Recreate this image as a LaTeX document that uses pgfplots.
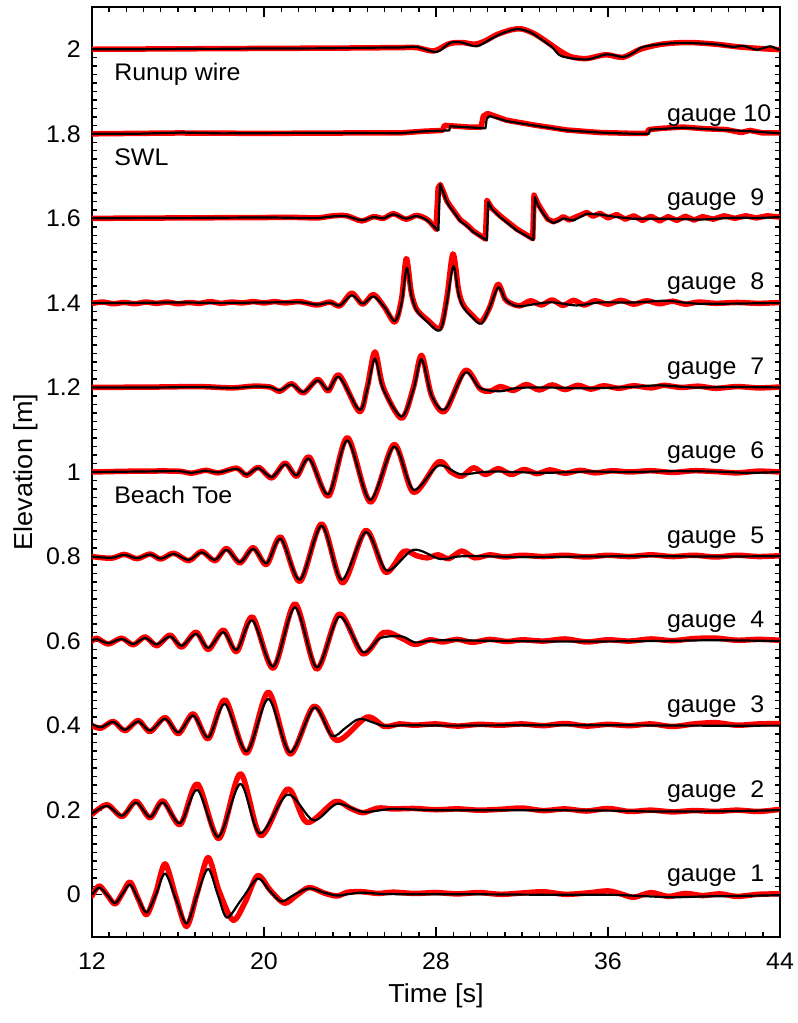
\documentclass[border=0pt]{standalone}
\usepackage{fontspec}
\setmainfont{Liberation Sans}[FakeStretch=1.04]
\usepackage{pgfplots}
\pgfplotsset{compat=1.18}

\pgfplotsset{
  meas/.style={red, line width=5.5pt, line join=round, line cap=round, no marks},
  modl/.style={black, line width=2.2pt, line join=round, no marks},
}

\begin{document}
\fontsize{24}{28}\selectfont
\begin{tikzpicture}
\begin{axis}[
  scale only axis, width=688pt, height=930pt,
  xmin=12, xmax=44, ymin=-0.1, ymax=2.1,
  xtick={12,20,28,36,44},
  ytick={0,0.2,0.4,0.6,0.8,1,1.2,1.4,1.6,1.8,2},
  minor x tick num=9, minor y tick num=9,
  tick align=inside,
  major tick length=10pt, minor tick length=5pt,
  tick style={black, line width=1.4pt},
  axis line style={line width=2.4pt},
  /pgf/number format/assume math mode=true,
  ticklabel style={font=\fontsize{24}{28}\selectfont},
  yticklabel style={xshift=-3pt},
  xticklabel style={yshift=-8pt},
  xlabel={Time [s]}, ylabel={Elevation [m]},
  label style={font=\fontsize{26}{30}\selectfont},
  xlabel style={at={(axis description cs:0.5,-0.0634)}, anchor=center},
  ylabel style={at={(axis description cs:-0.0959,0.5)}, anchor=center},
]

% gauge 1
\addplot[meas, smooth] coordinates {(12.0,-0.003)(12.33,0.021)(12.7,0.0)(13.07,-0.022)(13.42,0.004)(13.77,0.03)(14.15,-0.01)(14.54,-0.047)(14.97,0.005)(15.4,0.073)(15.9,-0.005)(16.4,-0.075)(16.9,0.005)(17.4,0.088)(17.9,0.01)(18.55,-0.06)(19.1,-0.02)(19.7,0.045)(20.3,0.01)(20.95,-0.02)(21.5,-0.002)(22.1,0.017)(22.8,0.004)(23.4,-0.003)(23.9,0.006)(24.6,0.007)(25.3,0.003)(26,0.006)(27,0.003)(28,0.005)(29,0.002)(30,0.005)(31,0.001)(32,0.004)(33,0.007)(34,0.001)(35,0.004)(36,0.009)(36.6,0.002)(37.2,-0.006)(38,0.005)(38.8,-0.004)(39.6,0.003)(40.4,-0.002)(41.2,0.002)(42,-0.004)(43,0.001)(44,0.002)};
\addplot[modl, smooth] coordinates {(12.0,0.000)(12.33,0.017)(12.7,0.0)(13.07,-0.02)(13.42,0.002)(13.77,0.024)(14.15,-0.01)(14.54,-0.042)(14.97,0.0)(15.4,0.05)(15.9,-0.01)(16.4,-0.068)(16.9,0.0)(17.4,0.061)(17.85,0.0)(18.27,-0.054)(18.9,-0.015)(19.7,0.038)(20.25,0.01)(20.8,-0.016)(21.4,0.0)(22.1,0.015)(22.8,0.005)(23.4,-0.002)(24.0,0.002)(24.6,0.005)(25.5,0.002)(27,0.001)(30,0.001)(33,0.0)(36,0.0)(37.5,-0.003)(39,-0.006)(40.5,-0.004)(42,-0.003)(44,-0.001)};

% gauge 2
\addplot[meas, smooth] coordinates {(12.0,0.19)(12.7,0.213)(13.4,0.185)(14.05,0.221)(14.7,0.182)(15.3,0.222)(16.1,0.166)(16.9,0.262)(17.9,0.133)(18.9,0.286)(19.85,0.14)(21.1,0.25)(22.0,0.171)(23.3,0.22)(24.0,0.205)(24.6,0.194)(25.3,0.205)(26,0.203)(27,0.204)(28,0.201)(29,0.203)(30,0.2)(31,0.202)(32,0.205)(33,0.199)(34,0.203)(35,0.198)(36,0.204)(37,0.197)(38,0.2)(39,0.196)(40,0.199)(41,0.197)(42,0.2)(43,0.197)(44,0.202)};
\addplot[modl, smooth] coordinates {(12.0,0.192)(12.7,0.21)(13.4,0.187)(14.05,0.218)(14.7,0.184)(15.3,0.218)(16.1,0.169)(16.9,0.248)(17.87,0.137)(18.9,0.262)(19.8,0.145)(21.1,0.237)(22.3,0.176)(23.4,0.215)(24.6,0.196)(26,0.203)(28,0.200)(32,0.200)(36,0.199)(38,0.197)(40,0.197)(42,0.198)(44,0.200)};

% gauge 3
\addplot[meas, smooth] coordinates {(12.0,0.40)(12.42,0.394)(12.99,0.41)(13.53,0.388)(14.15,0.412)(14.70,0.386)(15.40,0.419)(16.02,0.381)(16.71,0.428)(17.41,0.369)(18.19,0.461)(19.19,0.335)(20.20,0.479)(21.21,0.333)(22.33,0.446)(23.38,0.365)(24.78,0.420)(25.6,0.398)(26.3,0.404)(27,0.401)(28,0.404)(29,0.399)(30,0.403)(31,0.401)(32,0.404)(33,0.4)(34,0.405)(35,0.399)(36,0.403)(37,0.4)(38,0.404)(39,0.398)(40,0.404)(41,0.407)(42,0.401)(43,0.404)(44,0.405)};
\addplot[modl, smooth] coordinates {(12.0,0.404)(12.42,0.396)(12.99,0.409)(13.53,0.390)(14.15,0.410)(14.70,0.388)(15.40,0.416)(16.02,0.384)(16.71,0.424)(17.41,0.372)(18.19,0.451)(19.19,0.339)(20.20,0.463)(21.21,0.337)(22.33,0.443)(23.15,0.376)(23.8,0.395)(24.47,0.416)(25.55,0.400)(26.64,0.401)(28.65,0.400)(32,0.401)(36,0.401)(40,0.400)(44,0.400)};

% gauge 4
\addplot[meas, smooth] coordinates {(12.0,0.6)(12.22,0.607)(12.76,0.593)(13.38,0.607)(13.92,0.591)(14.47,0.61)(15.01,0.589)(15.63,0.614)(16.17,0.586)(16.84,0.621)(17.41,0.58)(18.11,0.626)(18.73,0.575)(19.46,0.657)(20.43,0.536)(21.44,0.688)(22.45,0.534)(23.50,0.664)(24.59,0.570)(25.55,0.62)(26.4,0.607)(27.02,0.592)(27.72,0.603)(28.3,0.598)(29,0.604)(29.7,0.597)(30.5,0.604)(31.3,0.599)(32,0.603)(33,0.6)(34,0.605)(35,0.598)(36,0.603)(37,0.6)(38,0.605)(39,0.601)(40,0.606)(41,0.607)(42,0.602)(43,0.604)(44,0.602)};
\addplot[modl, smooth] coordinates {(12.0,0.601)(12.22,0.605)(12.76,0.595)(13.38,0.605)(13.92,0.593)(14.47,0.6075)(15.01,0.592)(15.63,0.611)(16.17,0.589)(16.84,0.617)(17.41,0.584)(18.11,0.621)(18.73,0.579)(19.46,0.649)(20.43,0.540)(21.44,0.680)(22.45,0.538)(23.50,0.658)(24.59,0.574)(25.40,0.607)(26.40,0.611)(27.02,0.597)(27.72,0.601)(28.65,0.602)(30,0.601)(34,0.599)(38,0.6)(41,0.602)(44,0.6)};

% gauge 5
\addplot[meas, smooth] coordinates {(12,0.8)(12.9,0.796)(13.5,0.805)(14.1,0.795)(14.7,0.806)(15.2,0.794)(15.8,0.808)(16.5,0.79)(17.10,0.812)(17.72,0.79)(18.26,0.819)(18.88,0.785)(19.50,0.821)(20.12,0.781)(20.78,0.846)(21.67,0.741)(22.68,0.877)(23.65,0.738)(24.74,0.862)(25.65,0.763)(26.5,0.812)(27.1,0.802)(27.6,0.797)(28.1,0.804)(28.6,0.795)(29.2,0.813)(29.8,0.797)(30.5,0.804)(31.2,0.799)(32,0.803)(33,0.8)(34,0.803)(35,0.799)(36,0.803)(37,0.8)(38,0.804)(39,0.8)(40,0.803)(41,0.799)(42,0.803)(43,0.8)(44,0.802)};
\addplot[modl, smooth] coordinates {(12.0,0.800)(12.9,0.797)(13.5,0.804)(14.1,0.796)(14.7,0.805)(15.2,0.795)(15.8,0.806)(16.5,0.792)(17.10,0.810)(17.72,0.792)(18.26,0.816)(18.88,0.787)(19.50,0.818)(20.12,0.784)(20.78,0.842)(21.67,0.745)(22.68,0.873)(23.61,0.745)(24.74,0.858)(25.71,0.767)(26.95,0.816)(28.19,0.794)(29.0,0.80)(30,0.801)(32,0.799)(35,0.800)(38,0.801)(41,0.800)(44,0.801)};

% gauge 6
\addplot[meas, smooth] coordinates {(12,1.0)(14,1.002)(16,1.002)(16.6,0.997)(17.3,1.004)(17.88,0.998)(18.73,1.009)(19.19,0.992)(19.74,1.011)(20.36,0.986)(20.98,1.021)(21.52,0.99)(22.11,1.035)(23.0,0.943)(23.88,1.081)(24.95,0.929)(26.05,1.065)(26.95,0.952)(28.11,1.024)(28.7,1.0)(29.2,0.99)(29.75,1.01)(30.3,0.994)(30.9,1.008)(31.5,0.994)(32.1,1.006)(32.7,0.996)(33.3,1.005)(34,0.997)(34.7,1.004)(35.4,0.998)(36.2,1.003)(37,1.0)(38,1.003)(39,0.999)(40,1.003)(41,1.001)(42,0.998)(43,1.002)(44,1.0)};
\addplot[modl, smooth] coordinates {(12,1.0)(14,1.001)(16,1.002)(16.6,0.998)(17.3,1.003)(17.88,0.999)(18.73,1.0075)(19.19,0.994)(19.74,1.009)(20.36,0.988)(20.98,1.018)(21.52,0.992)(22.11,1.031)(22.99,0.947)(23.88,1.0746)(24.93,0.934)(26.05,1.060)(26.95,0.958)(28.11,1.015)(29.12,0.995)(30.2,1.0)(31,1.001)(33,0.998)(35,1.001)(37,1.0)(39,1.002)(41,1.001)(42.5,0.998)(44,1.0)};

% gauge 7
\addplot[meas, smooth] coordinates {(12,1.2)(15,1.201)(17,1.202)(18.5,1.199)(19.5,1.203)(20.28,1.201)(20.74,1.191)(21.29,1.209)(21.83,1.187)(22.50,1.219)(22.99,1.192)(23.50,1.229)(24.43,1.143)(24.8,1.2)(25.16,1.284)(25.55,1.2)(26.40,1.127)(26.95,1.2)(27.33,1.276)(27.8,1.18)(28.42,1.144)(29.35,1.24)(30.05,1.197)(30.5,1.191)(31.0,1.202)(31.6,1.193)(32.2,1.207)(32.8,1.194)(33.4,1.206)(34,1.195)(34.6,1.205)(35.2,1.196)(35.8,1.204)(36.5,1.198)(37.2,1.204)(38,1.199)(38.6,1.205)(39.4,1.2)(40.2,1.203)(41,1.198)(42,1.202)(43,1.199)(44,1.201)};
\addplot[modl, smooth] coordinates {(12,1.2)(15,1.2)(17,1.201)(18.5,1.199)(19.5,1.202)(20.28,1.2008)(20.74,1.193)(21.29,1.207)(21.83,1.189)(22.50,1.2166)(22.99,1.1945)(23.50,1.2245)(24.43,1.147)(24.8,1.195)(25.16,1.268)(25.55,1.195)(26.40,1.131)(26.95,1.195)(27.33,1.267)(27.8,1.18)(28.42,1.148)(29.35,1.235)(30.05,1.1985)(30.98,1.191)(31.75,1.1985)(33,1.2)(35,1.198)(37,1.201)(38.4,1.205)(40,1.2)(42,1.201)(44,1.2)};

% gauge 8
\addplot[meas, smooth] coordinates {(12,1.399)(12.5,1.402)(13,1.398)(13.5,1.401)(14,1.398)(14.5,1.402)(15,1.399)(15.5,1.402)(16,1.398)(16.5,1.401)(17,1.399)(17.5,1.403)(18,1.399)(18.5,1.402)(19,1.4)(19.5,1.403)(20,1.4)(20.5,1.403)(21,1.4)(21.67,1.403)(22.45,1.395)(23.07,1.402)(23.53,1.393)(24.08,1.423)(24.59,1.397)(25.09,1.42)(25.6,1.39)(26.09,1.355)(26.4,1.41)(26.62,1.505)(26.85,1.425)(27.10,1.385)(27.6,1.36)(28.19,1.34)(28.5,1.41)(28.79,1.516)(29.05,1.43)(29.27,1.395)(29.7,1.37)(30.1,1.355)(30.5,1.39)(30.88,1.444)(31.2,1.41)(31.44,1.4)(31.9,1.393)(32.4,1.405)(32.9,1.395)(33.4,1.407)(33.9,1.394)(34.4,1.406)(34.9,1.395)(35.4,1.405)(36,1.397)(36.6,1.406)(37.2,1.397)(37.8,1.405)(38.4,1.398)(39,1.404)(39.6,1.397)(40.2,1.402)(41,1.399)(42,1.401)(43,1.399)(44,1.401)};
\addplot[modl, smooth] coordinates {(12,1.4)(14,1.4)(16,1.401)(18,1.4)(20,1.401)(21.67,1.4015)(22.45,1.396)(23.07,1.4005)(23.53,1.394)(24.08,1.418)(24.59,1.398)(25.09,1.4154)(25.6,1.39)(26.09,1.357)(26.4,1.40)(26.64,1.483)(26.85,1.42)(27.10,1.382)(27.6,1.355)(28.19,1.335)(28.5,1.40)(28.81,1.487)(29.05,1.42)(29.27,1.39)(29.7,1.365)(30.12,1.351)(30.5,1.39)(30.90,1.437)(31.2,1.41)(31.44,1.399)(31.91,1.392)(33.30,1.4015)(34.54,1.394)(35.6,1.401)(37.2,1.401)(38.7,1.405)(40.3,1.398)(44,1.4)};

% gauge 9
\addplot[meas, smooth] coordinates {(12,1.6)(16,1.601)(20,1.602)(21.67,1.602)(22.5,1.601)(23.22,1.606)(23.85,1.606)(24.54,1.594)(25.09,1.604)(25.55,1.6)(26.02,1.611)(26.60,1.598)(27.10,1.607)(27.6,1.597)(28.0,1.575)};
\addplot[meas] coordinates {(28.0,1.575)(28.1,1.672)(28.2,1.68)(28.35,1.662)(28.5,1.642)(28.65,1.63)(29.12,1.597)(29.43,1.585)(29.74,1.57)(30.3,1.551)(30.37,1.643)(30.6,1.624)(30.98,1.606)(31.75,1.575)(32.5,1.552)(32.56,1.655)(32.75,1.634)(32.99,1.614)(33.2,1.598)(33.46,1.592)(33.7,1.597)(33.92,1.604)(34.2,1.596)(34.5,1.603)(35.01,1.614)(35.3,1.605)(35.63,1.612)(36.0,1.601)(36.4,1.609)(36.8,1.598)(37.2,1.606)(37.6,1.595)(38.0,1.605)(38.4,1.594)(38.8,1.604)(39.2,1.595)(39.6,1.605)(40.0,1.596)(40.4,1.604)(40.9,1.598)(41.4,1.606)(41.9,1.6)(42.4,1.606)(42.9,1.601)(43.4,1.606)(44,1.603)};
\addplot[modl, smooth] coordinates {(12,1.600)(16,1.601)(20,1.602)(21.67,1.601)(22.5,1.601)(23.22,1.6047)(23.85,1.605)(24.54,1.5953)(25.09,1.603)(25.55,1.600)(26.02,1.6095)(26.60,1.5993)(27.10,1.6055)(27.6,1.595)(28.11,1.570)};
\addplot[modl] coordinates {(28.11,1.570)(28.19,1.6805)(28.35,1.66)(28.5,1.639)(28.65,1.627)(29.12,1.594)(29.43,1.582)(29.74,1.5676)(30.36,1.548)(30.43,1.639)(30.6,1.622)(30.98,1.603)(31.75,1.5716)(32.53,1.549)(32.60,1.650)(32.75,1.63)(32.99,1.611)(33.2,1.597)(33.46,1.589)(33.7,1.594)(33.92,1.600)(34.39,1.595)(34.7,1.603)(35.01,1.611)(35.63,1.609)(36.4,1.603)(37.18,1.599)(38.73,1.599)(40.3,1.597)(41.83,1.6015)(43,1.601)(44,1.603)};

% gauge 10
\addplot[meas] coordinates {(12,1.800)(16,1.802)(20,1.801)(24,1.802)(26.33,1.802)(27.41,1.806)(28.3,1.808)(28.4,1.82)(29.5,1.816)(30.1,1.816)(30.2,1.842)(30.4,1.848)(31.29,1.832)(32.53,1.821)(34.08,1.809)(35.63,1.803)(37.18,1.801)(37.8,1.801)(37.9,1.81)(38.5,1.813)(39.5,1.816)(40.5,1.812)(41.5,1.81)(42.2,1.803)(42.6,1.808)(43.2,1.802)(44,1.802)};
\addplot[modl] coordinates {(12,1.800)(14,1.800)(16.2,1.803)(18,1.801)(22,1.802)(26.33,1.8015)(27.41,1.806)(28.62,1.808)(28.66,1.818)(30.3,1.813)(30.36,1.836)(30.5,1.842)(31.29,1.830)(32.53,1.820)(34.08,1.808)(35.63,1.803)(37.18,1.800)(37.90,1.800)(37.95,1.810)(39.50,1.8145)(41.05,1.810)(42.60,1.806)(43.92,1.8015)(44,1.801)};

% runup wire
\addplot[meas, smooth] coordinates {(12,2.0)(16,2.001)(20,2.002)(24,2.003)(26.33,2.004)(27.10,2.004)(27.9,1.996)(28.6,2.013)(29.2,2.016)(29.8,2.012)(30.3,2.02)(30.8,2.034)(31.5,2.046)(32.0,2.048)(32.6,2.036)(33.2,2.016)(33.8,1.995)(34.3,1.982)(35.0,1.978)(35.9,1.987)(36.7,1.981)(37.5,2.0)(38.5,2.012)(39.7,2.016)(41,2.012)(42,2.006)(43,2.002)(44,1.999)};
\addplot[modl, smooth] coordinates {(12,2.000)(14,2.000)(16,2.001)(18,2.001)(20,2.002)(22,2.002)(24,2.003)(25.5,2.004)(26.33,2.004)(27.10,2.0055)(28.03,1.9937)(28.65,2.015)(29.19,2.016)(29.89,2.007)(30.51,2.023)(31.0,2.036)(31.60,2.0466)(31.91,2.0473)(32.4,2.040)(32.84,2.0253)(33.4,2.005)(33.85,1.9834)(35.01,1.976)(35.94,1.988)(36.71,1.9818)(37.2,1.992)(37.64,2.0055)(38.73,2.0133)(39.66,2.015)(41.05,2.0115)(41.83,2.0055)(42.3,2.008)(42.92,1.999)(43.53,2.007)(43.92,1.9995)(44,1.999)};

% labels
\node[anchor=base west, inner sep=0pt] at (axis cs:13.03,1.927) {Runup wire};
\node[anchor=base west, inner sep=0pt] at (axis cs:13.03,1.725) {SWL};
\node[anchor=base west, inner sep=0pt] at (axis cs:13.03,0.925) {Beach Toe};
\node[anchor=base west, inner sep=0pt] at (axis cs:38.74,1.830) {gauge 10};
\node[anchor=base west, inner sep=0pt] at (axis cs:38.74,1.631) {gauge~~9};
\node[anchor=base west, inner sep=0pt] at (axis cs:38.74,1.431) {gauge~~8};
\node[anchor=base west, inner sep=0pt] at (axis cs:38.74,1.231) {gauge~~7};
\node[anchor=base west, inner sep=0pt] at (axis cs:38.74,1.031) {gauge~~6};
\node[anchor=base west, inner sep=0pt] at (axis cs:38.74,0.831) {gauge~~5};
\node[anchor=base west, inner sep=0pt] at (axis cs:38.74,0.631) {gauge~~4};
\node[anchor=base west, inner sep=0pt] at (axis cs:38.74,0.431) {gauge~~3};
\node[anchor=base west, inner sep=0pt] at (axis cs:38.74,0.231) {gauge~~2};
\node[anchor=base west, inner sep=0pt] at (axis cs:38.74,0.031) {gauge~~1};
\end{axis}
\pgfresetboundingbox
\path[use as bounding box] (-92pt,-86pt) rectangle (706pt,937pt);
\end{tikzpicture}
\end{document}
